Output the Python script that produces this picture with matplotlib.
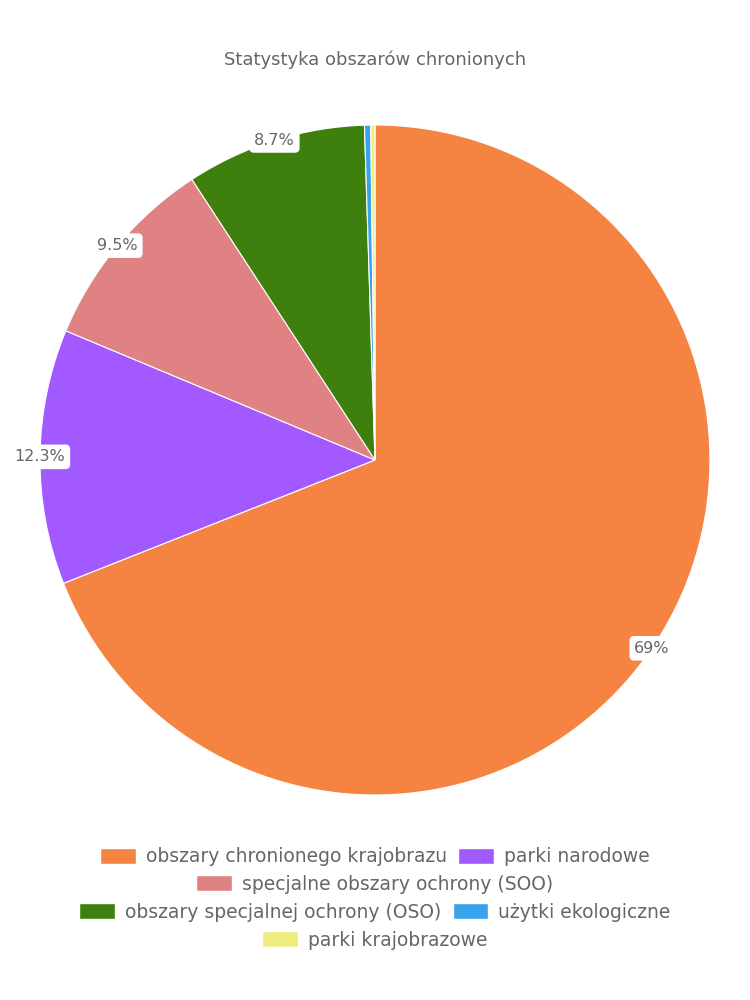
import numpy as np
import matplotlib.pyplot as plt
from matplotlib.patches import Patch

plt.rcParams['font.family'] = ['DejaVu Sans']

# values (percent)
categories = ['obszary chronionego krajobrazu', 'parki narodowe',
              'specjalne obszary ochrony (SOO)', 'obszary specjalnej ochrony (OSO)',
              'użytki ekologiczne', 'parki krajobrazowe']
values = [69.0, 12.3, 9.5, 8.7, 0.3, 0.2]
labels = ['69%', '12.3%', '9.5%', '8.7%', '', '']
colors = ['#f58442', '#a259ff', '#e08283', '#3f7f0d', '#38a3eb', '#f0ec7f']
legend_rows = [[0, 1], [2], [3, 4], [5]]

txt = '#666666'

fig = plt.figure(figsize=(7.5, 10), dpi=100)
ax = fig.add_axes([0.0533, 0.205, 0.8933, 0.67])

wedges, _ = ax.pie(values, colors=colors, startangle=90, counterclock=False,
                   wedgeprops=dict(edgecolor='white', linewidth=0.8))
ax.set_xlim(-1, 1)
ax.set_ylim(-1, 1)
ax.set_aspect('equal')

# labels at the rim, in white rounded boxes
total = sum(values)
start = 90.0
for v, lab in zip(values, labels):
    mid = np.deg2rad(start - v / total * 360 / 2)
    start -= v / total * 360
    if not lab:
        continue
    ax.text(np.cos(mid), np.sin(mid), lab, ha='center', va='center',
            fontsize=11.5, color=txt, clip_on=False,
            bbox=dict(boxstyle='round,pad=0.3,rounding_size=0.3', fc='white', ec='none'))

fig.text(0.5, 0.94, 'Statystyka obszarów chronionych', ha='center', va='center',
         fontsize=13, color=txt)

# legend wrapped in centered rows
ys = [0.143, 0.116, 0.088, 0.060]
for row, y in zip(legend_rows, ys):
    handles = [Patch(facecolor=colors[i], edgecolor='white', label=categories[i]) for i in row]
    leg = fig.legend(handles=handles, loc='center', bbox_to_anchor=(0.5, y),
                     ncol=len(row), frameon=False, fontsize=13.5, handlelength=1.9,
                     handleheight=0.9, columnspacing=0.6, handletextpad=0.55)
    for t in leg.get_texts():
        t.set_color(txt)

fig.savefig('out.png', dpi=100)
